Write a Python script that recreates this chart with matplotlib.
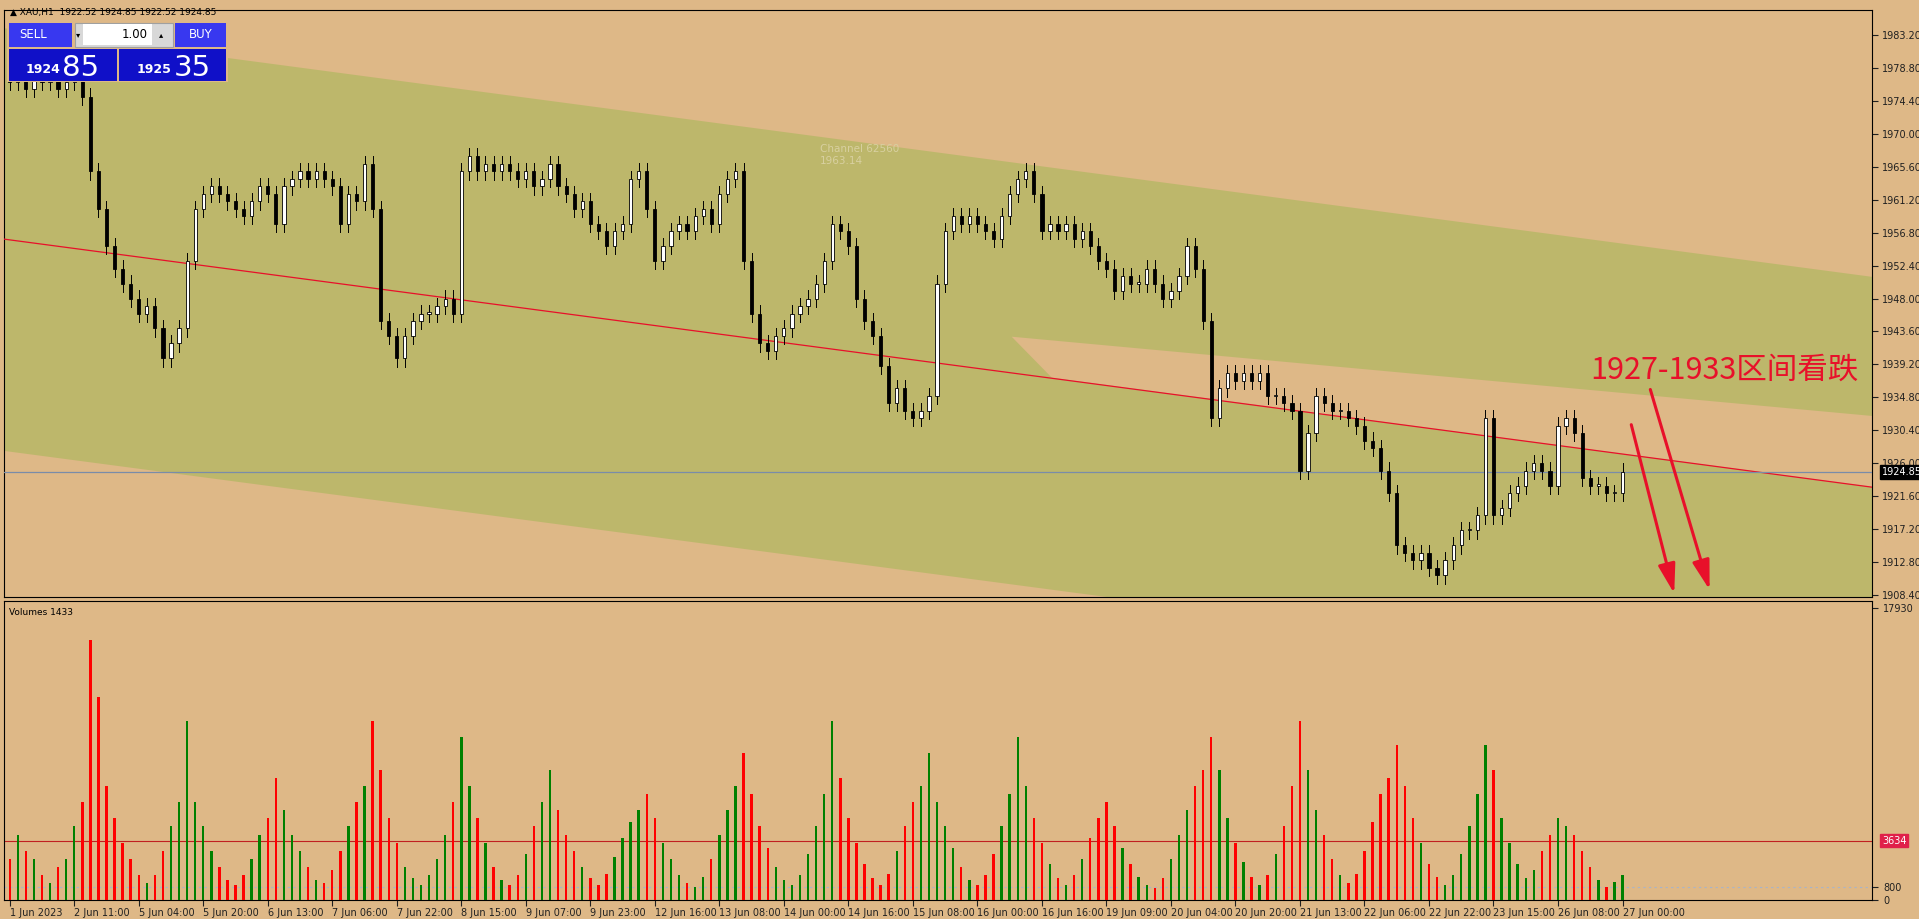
import matplotlib
matplotlib.use("Agg")
import matplotlib.pyplot as plt
from matplotlib.patches import Rectangle, Polygon, FancyArrowPatch
import numpy as np

plt.rcParams['font.family'] = ['DejaVu Sans', 'Noto Sans CJK SC']

closes = [1977,1978,1976,1979,1977,1978,1976,1977,1978,1975,
 1965,1960,1955,1952,1950,1948,1946,1947,1944,1940,
 1942,1944,1953,1960,1962,1963,1962,1961,1960,1959,
 1961,1963,1962,1958,1963,1964,1965,1964,1965,1964,
 1963,1958,1962,1961,1966,1960,1945,1943,1940,1943,
 1945,1946,1946,1947,1948,1946,1965,1967,1965,1966,
 1965,1966,1965,1964,1965,1963,1964,1966,1963,1962,
 1960,1961,1958,1957,1955,1957,1958,1964,1965,1960,
 1953,1955,1957,1958,1957,1959,1960,1958,1962,1964,
 1965,1953,1946,1942,1941,1943,1944,1946,1947,1948,
 1950,1953,1958,1957,1955,1948,1945,1943,1939,1934,
 1936,1933,1932,1933,1935,1950,1957,1959,1958,1959,
 1958,1957,1956,1959,1962,1964,1965,1962,1957,1958,
 1957,1958,1956,1957,1955,1953,1952,1949,1951,1950,
 1950,1952,1950,1948,1949,1951,1955,1952,1945,1932,
 1936,1938,1937,1938,1937,1938,1935,1935,1934,1933,
 1925,1930,1935,1934,1933,1933,1932,1931,1929,1928,
 1925,1922,1915,1914,1913,1914,1912,1911,1913,1915,
 1917,1917,1919,1932,1919,1920,1922,1923,1925,1926,
 1925,1923,1931,1932,1930,1924,1923,1923,1922,1922,
 1924.85]
first_open = 1977.5

volumes = [2500,4000,3000,2500,1500,1000,2000,2500,4500,6000,
 16000,12500,7000,5000,3500,2500,1500,1000,1500,3000,4500,6000,
 11000,6000,4500,3000,2000,1200,900,1500,2500,4000,5000,
 7500,5500,4000,3000,2000,1200,1000,1800,3000,4500,6000,7000,
 11000,8000,5000,3500,2000,1300,900,1500,2500,4000,6000,
 10000,7000,5000,3500,2000,1200,900,1500,2800,4500,6000,
 8000,5500,4000,3000,2000,1300,900,1600,2600,3800,4800,5500,
 6500,5000,3500,2500,1500,1000,800,1400,2500,4000,5500,7000,
 9000,6500,4500,3200,2000,1200,900,1500,2800,4500,6500,
 11000,7500,5000,3500,2200,1300,900,1600,3000,4500,6000,7000,
 9000,6000,4500,3200,2000,1200,900,1500,2800,4500,6500,
 10000,7000,5000,3500,2200,1300,900,1500,2500,3800,5000,
 6000,4500,3200,2200,1400,900,700,1300,2500,4000,5500,7000,8000,
 10000,8000,5000,3500,2300,1400,900,1500,2800,4500,7000,
 11000,8000,5500,4000,2500,1500,1000,1600,3000,4800,6500,7500,
 9500,7000,5000,3500,2200,1400,900,1500,2800,4500,6500,
 9500,8000,5000,3500,2200,1300,1800,3000,4000,
 5000,4500,4000,3000,2000,1200,800,1100,1500]

xtick_labels = ["1 Jun 2023","2 Jun 11:00","5 Jun 04:00","5 Jun 20:00","6 Jun 13:00",
 "7 Jun 06:00","7 Jun 22:00","8 Jun 15:00","9 Jun 07:00","9 Jun 23:00","12 Jun 16:00",
 "13 Jun 08:00","14 Jun 00:00","14 Jun 16:00","15 Jun 08:00","16 Jun 00:00","16 Jun 16:00",
 "19 Jun 09:00","20 Jun 04:00","20 Jun 20:00","21 Jun 13:00","22 Jun 06:00","22 Jun 22:00",
 "23 Jun 15:00","26 Jun 08:00","27 Jun 00:00"]
price_ticks = [1908.40,1912.80,1917.20,1921.60,1926.00,1930.40,1934.80,1939.20,1943.60,
 1948.00,1952.40,1956.80,1961.20,1965.60,1970.00,1974.40,1978.80,1983.20]

BG = '#DEB887'
OLIVE = '#BDB76B'
W, H = 1919, 919
S = 1919/1568

fig = plt.figure(figsize=(W/100, H/100), dpi=100, facecolor=BG)

def fr(x0, y0, x1, y1):
    return [x0*S/W, 1-y1*S/H, (x1-x0)*S/W, (y1-y0)*S/H]

ax = fig.add_axes(fr(3, 8, 1530, 488), facecolor=BG)
axv = fig.add_axes(fr(3, 491, 1530, 735), facecolor=BG)
XL = (-1.5, 462)

hx = np.array(XL)
up = np.array([1984.2, 1950.95]); lo = np.array([1927.7, 1894.6])
ax.fill_between(hx, lo, up, color=OLIVE, lw=0, zorder=1)
mid = (up+lo)/2
ax.add_patch(Polygon([[248.5,1942.9],[462,1932.3],[462,1922.8],[258.5,1937.4]],
                     closed=True, color=BG, lw=0, zorder=2))
ax.plot(hx, mid, color='#E8102A', lw=0.9, zorder=3)

opens = [first_open] + closes[:-1]
for i, (o, c) in enumerate(zip(opens, closes)):
    x = 2*i
    hi = max(o, c) + 1.1; lw_ = min(o, c) - 1.1
    ax.plot([x, x], [lw_, hi], color='black', lw=0.7, zorder=4)
    fc = 'white' if c >= o else 'black'
    ax.add_patch(Rectangle((x-0.4, min(o, c)), 0.8, max(abs(c-o), 0.15),
                           facecolor=fc, edgecolor='black', lw=0.6, zorder=5))

ax.axhline(closes[-1], color='#7A8CA8', lw=0.9, zorder=3)
ax.set_xlim(*XL); ax.set_ylim(1908.07, 1986.6)
ax.yaxis.tick_right()
ax.set_yticks(price_ticks)
ax.set_yticklabels([f"{t:.2f}" for t in price_ticks], fontsize=7)
ax.set_xticks([])
ax.tick_params(axis='y', length=4, pad=3, colors='#202020')
for s in ax.spines.values(): s.set_color('black')
ax.text(1.005, (closes[-1]-1908.07)/(1986.6-1908.07), f"{closes[-1]:.2f}", transform=ax.transAxes,
        fontsize=7, color='white', va='center', ha='left',
        bbox=dict(boxstyle='square,pad=0.2', fc='black', ec='black'))

ax.text(392, 1938.4, "1927-1933区间看跌", color='#E8102A', fontsize=22,
        family=['Noto Sans CJK SC', 'DejaVu Sans'], va='center', ha='left', zorder=6)
for (x0, y0, x1, y1) in [(402, 1931.5, 413, 1908.2), (406.7, 1936.2, 421.8, 1908.7)]:
    ax.add_patch(FancyArrowPatch((x0, y0), (x1, y1), arrowstyle='-|>,head_length=12,head_width=3.5',
                                 mutation_scale=1.5, color='#E8102A', lw=2.2, zorder=6))
ax.text(201, 1966, "Channel 62560\n1963.14", color='#D8D0A0', fontsize=7.5, zorder=2)

n = min(len(volumes), len(closes))
vx = [2*i for i in range(n)]
vc = ['#008000' if closes[i] >= opens[i] else '#FF0000' for i in range(n)]
axv.bar(vx, volumes[:n], width=0.6, color=vc, zorder=3)
axv.axhline(3634, color='#C02020', lw=0.8, zorder=2)
axv.axhline(800, color='#A8B4C8', lw=0.8, ls=(0, (2, 3)), zorder=2)
axv.set_xlim(*XL); axv.set_ylim(0, 18386)
axv.yaxis.tick_right()
axv.set_yticks([0, 800, 17930]); axv.set_yticklabels(['0', '800', '17930'], fontsize=7)
axv.tick_params(axis='y', length=4, colors='#202020')
axv.text(1.005, 3634/18386, "3634", transform=axv.transAxes, fontsize=7, color='white',
         va='center', ha='left', bbox=dict(boxstyle='square,pad=0.2', fc='#E0204A', ec='#E0204A'))
axv.set_xticks([16*k for k in range(len(xtick_labels))])
axv.set_xticklabels(xtick_labels, fontsize=7, ha='left')
axv.tick_params(axis='x', length=4, pad=2, colors='#202020')
axv.text(0.003, 0.975, "Volumes 1433", transform=axv.transAxes, fontsize=6.5, va='top')
for s in axv.spines.values(): s.set_color('black')

fig.text(8*S/W, 1-10*S/H, "▲ XAU,H1  1922.52 1924.85 1922.52 1924.85", fontsize=6.5, va='center')
def box(x0, y0, x1, y1, fc, ec='none'):
    f = fr(x0, y0, x1, y1)
    fig.add_artist(Rectangle((f[0], f[1]), f[2], f[3], transform=fig.transFigure, fc=fc, ec=ec, lw=0.8))
def t(x, y, s, size, **kw):
    fig.text(x*S/W, 1-y*S/H, s, fontsize=size, color=kw.pop('color', 'white'), **kw)
box(6, 18, 186, 67, BG)
box(7, 19, 59, 38, '#3838F0')
box(61, 19, 141, 38, '#D8D8D8', '#A0A0A0')
box(68, 20, 124, 37, 'white')
box(143, 19, 185, 38, '#3838F0')
box(7, 40, 96, 66, '#1010C8')
box(97, 40, 185, 66, '#1010C8')
t(27, 28, "SELL", 8.5, ha='center', va='center')
t(164, 28, "BUY", 8.5, ha='center', va='center')
t(121, 28, "1.00", 8.5, ha='right', va='center', color='black')
t(64, 28, "▾", 6, ha='center', va='center', color='black')
t(132, 28, "▴", 6, ha='center', va='center', color='black')
t(49, 60, "1924", 9, ha='right', va='baseline', weight='bold')
t(51, 62, "85", 21, ha='left', va='baseline')
t(140, 60, "1925", 9, ha='right', va='baseline', weight='bold')
t(142, 62, "35", 21, ha='left', va='baseline')

fig.savefig("out.png", dpi=100, facecolor=BG)
